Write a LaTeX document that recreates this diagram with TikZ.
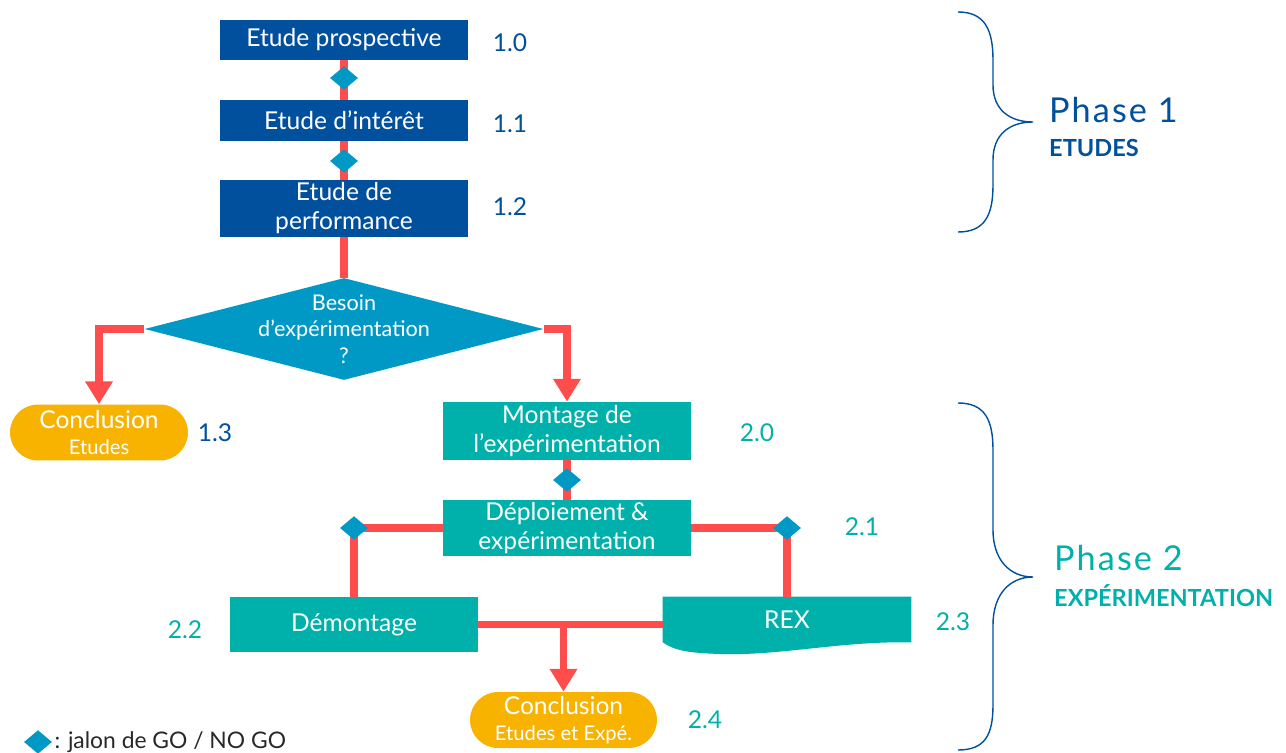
\documentclass[tikz,border=0pt]{standalone}
\usepackage{fontspec}
\setmainfont{Lato}
\usetikzlibrary{shapes.geometric,arrows.meta,backgrounds}
\definecolor{bleuF}{RGB}{0,80,158}
\definecolor{turq}{RGB}{0,176,170}
\definecolor{cyanj}{RGB}{0,153,198}
\definecolor{rouge}{RGB}{255,76,76}
\definecolor{orangec}{RGB}{248,178,0}
\definecolor{grisl}{RGB}{40,40,40}
\tikzset{
  boxtxt/.style={font=\fontsize{14}{16.5}\selectfont, text=white, align=center},
  etude/.style={boxtxt, rectangle, fill=bleuF, minimum width=4.96cm, inner sep=0pt},
  expe/.style={boxtxt, rectangle, fill=turq, minimum width=4.96cm, inner sep=0pt},
  concl/.style={boxtxt, rectangle, fill=orangec, rounded corners=0.56cm,
    minimum height=1.12cm, inner sep=0pt},
  jalon/.style={diamond, fill=cyanj, minimum width=16pt, minimum height=13.5pt, inner sep=0pt},
  numa/.style={font=\fontsize{14}{16.5}\selectfont, text=bleuF},
  numb/.style={font=\fontsize{14}{16.5}\selectfont, text=turq},
  lien/.style={rouge, line width=4pt},
  fleche/.style={lien, -{Triangle[width=15pt,length=13pt]}},
  accol/.style={bleuF, line width=0.8pt},
}
\begin{document}
\begin{tikzpicture}[x=0.02cm,y=-0.02cm]
  \useasboundingbox (0,0) rectangle (1286,753);
  % Phase 1
  \node[etude, minimum height=0.8cm] (b1) at (344,40) {Etude prospective};
  \node[etude, minimum height=0.82cm] (b2) at (344,120.5) {Etude d’intérêt};
  \node[etude, minimum height=1.14cm] (b3) at (344,208.5) {Etude de\\performance};
  \node[diamond, fill=cyanj, inner sep=0pt, minimum width=7.98cm, minimum height=2.04cm]
    (besoin) at (344,329) {};
  \node[boxtxt, font=\fontsize{12.3}{15}\selectfont] at (besoin) {Besoin\\d’expérimentation\\?};
  \node[concl, minimum width=3.56cm] (concl1) at (99,432.5)
    {Conclusion\\[-2pt]{\fontsize{11.5}{13}\selectfont Etudes}};
  % Phase 2
  \node[expe, minimum height=1.16cm] (montage) at (567,431) {Montage de\\l’expérimentation};
  \node[expe, minimum height=1.12cm] (deploi) at (567,528) {Déploiement \&\\expérimentation};
  \node[expe, minimum height=1.1cm] (demont) at (354,624.5) {Démontage};
  \node[boxtxt, minimum width=4.96cm, minimum height=0.9cm, inner sep=0pt] (rex) at (787,619.5) {};
  \node[concl, minimum width=3.74cm] (concl2) at (563.5,720)
    {Conclusion\\[-2pt]{\fontsize{11.5}{13}\selectfont Etudes et Expé.}};
  % document shape of REX
  \begin{scope}[on background layer]
    \fill[turq] (rex.north west) -- (rex.north east) -- (rex.south east)
      .. controls (840,641) and (780,656) .. (720,654)
      .. controls (690,653) and (675,651) .. (rex.south west) -- cycle;
    % liens
    \draw[lien] (b1) -- (b2);
    \draw[lien] (b2) -- (b3);
    \draw[lien] (b3) -- (besoin.north);
    \draw[fleche] (besoin.west) -| (concl1.north);
    \draw[fleche] (besoin.east) -| (montage.north);
    \draw[lien] (montage) -- (deploi);
    \draw[lien] (deploi.west) -| (demont.north);
    \draw[lien] (deploi.east) -| (rex.north);
    \draw[lien] (demont.east) -- (demont.east -| rex.west);
    \draw[fleche] (demont.east -| concl2.north) -- (concl2.north);
  \end{scope}
  \node[boxtxt] at (rex) {REX};
  % jalons
  \node[jalon] (j1) at (344,78) {};
  \node[jalon] (j2) at (344,161) {};
  \node[jalon] (j3) at (567,480) {};
  \node[jalon] (j4) at (deploi.west -| demont.north) {};
  \node[jalon] (j5) at (deploi.east -| rex.north) {};
  % numeros
  \node[numa] (n10) at (510,43) {1.0};
  \node[numa] (n11) at (510,124) {1.1};
  \node[numa] (n12) at (510,207) {1.2};
  \node[numa] (n13) at (215,433) {1.3};
  \node[numb] (n20) at (757,433) {2.0};
  \node[numb] (n21) at (862,527) {2.1};
  \node[numb] (n22) at (185,630) {2.2};
  \node[numb] (n23) at (953,622) {2.3};
  \node[numb] (n24) at (705,720) {2.4};
  % accolades
  \draw[accol] (958,12) .. controls (985,12) and (993,30) .. (993,60) -- (993,85)
    .. controls (993,110) and (1010,122) .. (1033,122)
    .. controls (1010,122) and (993,134) .. (993,160) -- (993,185)
    .. controls (993,215) and (985,232) .. (958,232);
  \draw[accol] (958,403) .. controls (985,403) and (993,420) .. (993,450) -- (993,530)
    .. controls (993,560) and (1010,577) .. (1033,577)
    .. controls (1010,577) and (993,594) .. (993,625) -- (993,705)
    .. controls (993,735) and (985,750) .. (958,750);
  \node[anchor=west, text=bleuF, font=\fontsize{19.5}{22}\addfontfeature{LetterSpace=6}\selectfont]
    (ph1) at (1043,110) {Phase 1};
  \node[anchor=west, text=bleuF, font=\fontsize{13.4}{15}\bfseries\selectfont] (et1) at (1043,148) {ETUDES};
  \node[anchor=west, text=turq, font=\fontsize{19.5}{22}\addfontfeature{LetterSpace=6}\selectfont]
    (ph2) at (1048,558) {Phase 2};
  \node[anchor=west, text=turq, font=\fontsize{13.4}{15}\bfseries\selectfont] (et2) at (1048,596) {EXPÉRIMENTATION};
  % legende
  \node[jalon] (jl) at (38,742) {};
  \node[anchor=west, text=grisl, font=\fontsize{13}{15}\selectfont, inner sep=1pt] (leg) at (jl.east)
    {: jalon de GO / NO GO};
\end{tikzpicture}
\end{document}
